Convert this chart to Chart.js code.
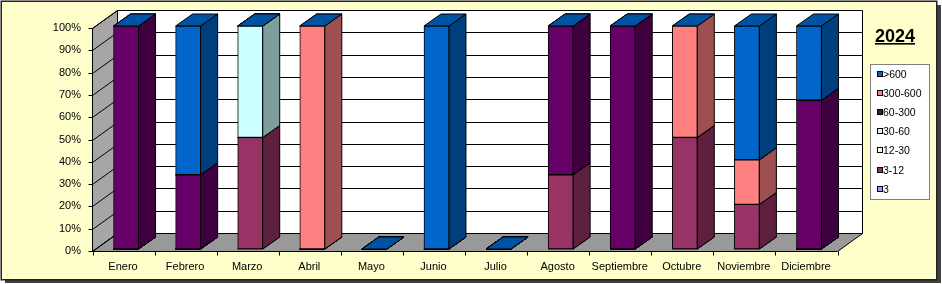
<!DOCTYPE html>
<html>
<head>
<meta charset="utf-8">
<script src="https://cdn.jsdelivr.net/npm/chart.js@4/dist/chart.umd.min.js"></script>
<style>
  html, body { margin: 0; padding: 0; background: #fff; }
  canvas { display: block; }
</style>
</head>
<body>
<canvas id="myChart" width="942" height="284"></canvas>
<script>
/*####
  Data
  ####*/
const months = ['Enero', 'Febrero', 'Marzo', 'Abril', 'Mayo', 'Junio', 'Julio',
  'Agosto', 'Septiembre', 'Octubre', 'Noviembre', 'Diciembre'];
const yTicks = [0, 10, 20, 30, 40, 50, 60, 70, 80, 90, 100];
const title = '2024';

// % of each month, bottom of the stack first
const s3      = [0, 0, 0, 0, 0, 0, 0, 0, 0, 0, 0, 0];
const s3to12  = [0, 0, 50, 0, 0, 0, 0, 33.3, 0, 50, 20, 0];
const s12to30 = [0, 0, 0, 0, 0, 0, 0, 0, 0, 0, 0, 0];
const s30to60 = [0, 0, 50, 0, 0, 0, 0, 0, 0, 0, 0, 0];
const s60to300 = [100, 33.3, 0, 0, 0, 0, 0, 66.7, 100, 0, 0, 66.7];
const s300to600 = [0, 0, 0, 100, 0, 0, 0, 0, 0, 50, 20, 0];
const s600    = [0, 66.7, 0, 0, 0, 100, 0, 0, 0, 0, 60, 33.3];

const seriesNames = ['3', '3-12', '12-30', '30-60', '60-300', '300-600', '>600'];
const seriesData = [s3, s3to12, s12to30, s30to60, s60to300, s300to600, s600];
const seriesColors = ['#9999FF', '#993366', '#FFFFCC', '#CCFFFF', '#660066', '#FF8080', '#0066CC'];

/* Set-up */
const FONT = "'Liberation Sans', Arial, sans-serif";
const WALL = {dx: 25, dy: -18};   // depth of the floor / back wall
const BAR = {dx: 17, dy: -12};    // depth of one column
const SHIFT = {dx: -3, dy: 2};    // front plane vs column front faces

function shade(hex, f) {
  const n = parseInt(hex.slice(1), 16);
  const r = Math.round(((n >> 16) & 255) * f);
  const g = Math.round(((n >> 8) & 255) * f);
  const b = Math.round((n & 255) * f);
  return 'rgb(' + r + ',' + g + ',' + b + ')';
}

function poly(ctx, pts, fill) {
  ctx.beginPath();
  ctx.moveTo(pts[0][0], pts[0][1]);
  for (let i = 1; i < pts.length; i++) ctx.lineTo(pts[i][0], pts[i][1]);
  ctx.closePath();
  if (fill) { ctx.fillStyle = fill; ctx.fill(); }
  ctx.stroke();
}

/*#####################
  3D walls, sides, tops
  #####################*/
const excel3d = {
  id: 'excel3d',
  beforeDraw(chart) {
    const ctx = chart.ctx;
    ctx.save();
    // chart frame with shadow
    ctx.fillStyle = '#404040';
    ctx.fillRect(5, 5, 936, 278);
    ctx.fillStyle = '#FFFFCC';
    ctx.fillRect(1, 1, 936, 279);
    ctx.strokeStyle = '#222';
    ctx.lineWidth = 1.5;
    ctx.strokeRect(1.25, 1.25, 935.5, 278.5);
    ctx.restore();
  },
  beforeDatasetsDraw(chart) {
    const ctx = chart.ctx;
    const a = chart.chartArea;
    const y = chart.scales.y;
    const L = Math.round(a.left + SHIFT.dx) + 0.5;
    const R = Math.round(a.right + SHIFT.dx) + 0.5;
    const B = Math.round(y.getPixelForValue(0) + SHIFT.dy) + 0.5;
    const T = Math.round(y.getPixelForValue(100) + SHIFT.dy) + 0.5;
    ctx.save();
    ctx.strokeStyle = '#000';
    ctx.lineWidth = 1;
    // back wall
    poly(ctx, [[L + WALL.dx, T + WALL.dy], [R + WALL.dx, T + WALL.dy],
      [R + WALL.dx, B + WALL.dy], [L + WALL.dx, B + WALL.dy]], '#FFFFFF');
    // left wall
    poly(ctx, [[L, B], [L, T], [L + WALL.dx, T + WALL.dy], [L + WALL.dx, B + WALL.dy]], '#A6A6A6');
    // floor
    poly(ctx, [[L, B], [R, B], [R + WALL.dx, B + WALL.dy], [L + WALL.dx, B + WALL.dy]], '#999999');
    // gridlines
    yTicks.forEach(function(v) {
      const py = Math.round(y.getPixelForValue(v) + SHIFT.dy) + 0.5;
      ctx.beginPath();
      ctx.moveTo(L, py);
      ctx.lineTo(L + WALL.dx, py + WALL.dy);
      if (v > 0 && v < 100) ctx.lineTo(R + WALL.dx, py + WALL.dy);
      ctx.stroke();
    });
    // column sides and tops, bottom series first
    chart.data.datasets.forEach(function(ds, i) {
      const meta = chart.getDatasetMeta(i);
      meta.data.forEach(function(bar) {
        const p = bar.getProps(['x', 'y', 'base', 'width'], true);
        const l = p.x - p.width / 2, r = p.x + p.width / 2;
        const top = Math.min(p.y, p.base), bot = Math.max(p.y, p.base);
        if (bot - top > 0.5) {
          poly(ctx, [[r, top], [r + BAR.dx, top + BAR.dy], [r + BAR.dx, bot + BAR.dy], [r, bot]],
            shade(ds.backgroundColor, 0.62));
        }
        poly(ctx, [[l, top], [r, top], [r + BAR.dx, top + BAR.dy], [l + BAR.dx, top + BAR.dy]],
          shade(ds.backgroundColor, 0.8));
      });
    });
    ctx.restore();
  },
  afterDraw(chart) {
    const ctx = chart.ctx;
    const a = chart.chartArea;
    const y = chart.scales.y;
    const L = Math.round(a.left + SHIFT.dx) + 0.5;
    const R = Math.round(a.right + SHIFT.dx) + 0.5;
    const B = Math.round(y.getPixelForValue(0) + SHIFT.dy) + 0.5;
    ctx.save();
    ctx.strokeStyle = '#000';
    ctx.lineWidth = 1;
    // axis tick marks
    ctx.beginPath();
    yTicks.forEach(function(v) {
      const py = Math.round(y.getPixelForValue(v) + SHIFT.dy) + 0.5;
      ctx.moveTo(L - 4, py);
      ctx.lineTo(L, py);
    });
    const step = (R - L) / months.length;
    for (let i = 0; i <= months.length; i++) {
      const px = Math.round(L + i * step) + 0.5;
      ctx.moveTo(px, B);
      ctx.lineTo(px, B + 4);
    }
    ctx.stroke();

    // title
    ctx.fillStyle = '#000';
    ctx.font = 'bold 18px ' + FONT;
    ctx.textAlign = 'center';
    ctx.textBaseline = 'alphabetic';
    const tw = ctx.measureText(title).width;
    ctx.fillText(title, 895, 42);
    ctx.fillRect(895 - tw / 2, 43, tw, 1.6);

    // legend, top series first
    ctx.fillStyle = '#FFFFFF';
    ctx.fillRect(870, 64, 59, 135);
    ctx.strokeStyle = '#808080';
    ctx.strokeRect(870.5, 64.5, 59, 135);
    ctx.font = '10.5px ' + FONT;
    ctx.textAlign = 'left';
    ctx.textBaseline = 'middle';
    ctx.strokeStyle = '#000';
    for (let k = 0; k < seriesNames.length; k++) {
      const i = seriesNames.length - 1 - k;
      const ry = Math.round(74 + k * 19.1);
      ctx.fillStyle = seriesColors[i];
      ctx.fillRect(877.5, ry - 2.5, 5, 5);
      ctx.strokeRect(877.5, ry - 2.5, 5, 5);
      ctx.fillStyle = '#000';
      ctx.fillText(seriesNames[i], 883, ry + 1);
    }
    ctx.restore();
  }
};

/* Config */
const config = {
  type: 'bar',
  data: {
    labels: months,
    datasets: seriesNames.map(function(name, i) {
      return {
        label: name,
        data: seriesData[i],
        backgroundColor: seriesColors[i],
        borderColor: '#000',
        borderWidth: 1,
        borderSkipped: false,
        barThickness: 25
      };
    })
  },
  options: {
    responsive: false,
    devicePixelRatio: 1,
    animation: false,
    events: [],
    layout: {padding: {left: 0, top: 26, right: 102, bottom: 0}},
    plugins: {
      legend: {display: false},
      tooltip: {enabled: false},
      title: {display: false}
    },
    scales: {
      x: {
        stacked: true,
        grid: {display: false},
        border: {display: false},
        ticks: {
          color: '#000',
          font: {family: FONT, size: 11},
          padding: 3,
          labelOffset: -3,
          maxRotation: 0,
          autoSkip: false
        },
        afterFit: function(scale) { scale.height = 35; }
      },
      y: {
        stacked: true,
        min: 0,
        max: 100,
        grid: {display: false},
        border: {display: false},
        afterBuildTicks: function(scale) {
          scale.ticks = yTicks.map(function(v) { return {value: v}; });
        },
        ticks: {
          color: '#000',
          font: {family: FONT, size: 11},
          padding: 6,
          labelOffset: 2,
          callback: function(v) { return v + '%'; }
        },
        afterFit: function(scale) { scale.width = 95; }
      }
    }
  },
  plugins: [excel3d]
};

/* Render chart */
var myChart = new Chart(document.getElementById('myChart'), config);
</script>
</body>
</html>
